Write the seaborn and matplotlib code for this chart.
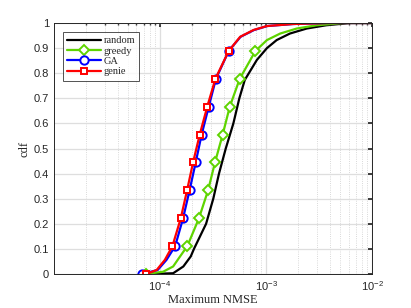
import numpy as np
import pandas as pd
import matplotlib
matplotlib.use("Agg")
import matplotlib.pyplot as plt
import seaborn as sns
from matplotlib.ticker import LogLocator, NullFormatter, FixedLocator

# cdf levels / NMSE values
m = 1 / 9
random_cdf = [0, 0.003, 0.03, 0.07, 0.1, 0.2, 0.3, 0.4, 0.5, 0.6, 0.7, 0.773, 0.853, 0.9, 0.932, 0.958, 0.978, 0.991, 1.0, 1.0]
random_x = [8e-5, 1.33e-4, 1.66e-4, 1.95e-4, 2.09e-4, 2.72e-4, 3.18e-4, 3.6e-4, 4.17e-4, 4.92e-4, 5.6e-4, 6.3e-4, 8.2e-4, 1.02e-3, 1.26e-3, 1.68e-3, 2.42e-3, 3.7e-3, 6.2e-3, 1e-2]

greedy_cdf = [0, 0.009, 0.03, 0.069, m, 2*m, 3*m, 4*m, 5*m, 6*m, 7*m, 8*m, 0.932, 0.958, 0.978, 0.991, 1.0, 1.0]
greedy_x = [7.3e-5, 1.07e-4, 1.33e-4, 1.54e-4, 1.81e-4, 2.33e-4, 2.84e-4, 3.3e-4, 3.9e-4, 4.55e-4, 5.65e-4, 7.95e-4, 1.02e-3, 1.36e-3, 1.95e-3, 3.0e-3, 5.4e-3, 1e-2]
greedy_mk = [0, 4, 5, 6, 7, 8, 9, 10, 11]

ga_cdf = [0, 0.016, 0.056, m, 2*m, 3*m, 4*m, 5*m, 6*m, 7*m, 8*m, 0.945, 0.972, 0.988, 0.996, 1.0, 1.0]
ga_x = [6.8e-5, 9.5e-5, 1.15e-4, 1.39e-4, 1.65e-4, 1.90e-4, 2.17e-4, 2.47e-4, 2.88e-4, 3.37e-4, 4.45e-4, 5.75e-4, 7.7e-4, 1.03e-3, 1.8e-3, 3.8e-3, 1e-2]
ga_mk = [0, 3, 4, 5, 6, 7, 8, 9, 10]

genie_cdf = [0, 0.016, 0.056, m, 2*m, 3*m, 4*m, 5*m, 6*m, 7*m, 8*m, 0.945, 0.972, 0.988, 0.996, 1.0, 1.0]
genie_x = [7.4e-5, 9.3e-5, 1.11e-4, 1.31e-4, 1.57e-4, 1.80e-4, 2.05e-4, 2.37e-4, 2.79e-4, 3.33e-4, 4.45e-4, 5.7e-4, 7.6e-4, 1.02e-3, 1.8e-3, 3.8e-3, 1e-2]
genie_mk = [0, 3, 4, 5, 6, 7, 8, 9, 10]

sns.set_theme(style="white")
plt.rcParams['font.family'] = ['Liberation Sans', 'DejaVu Sans']
plt.rcParams['mathtext.fontset'] = 'custom'
plt.rcParams['mathtext.rm'] = 'Liberation Sans'

fig = plt.figure(figsize=(4.11, 3.08), dpi=100)
ax = fig.add_axes([0.1314, 0.1104, 0.7738, 0.8149])
ax.set_xscale('log')

green = '#5ed400'
sns.lineplot(x=random_x, y=random_cdf, ax=ax, color='black', lw=1.6, sort=False,
             estimator=None, label='random')
sns.lineplot(x=greedy_x, y=greedy_cdf, ax=ax, color=green, lw=1.6, sort=False, estimator=None,
             marker='D', markevery=greedy_mk, ms=5, mfc='white', mec=green, mew=1.4, label='greedy')
sns.lineplot(x=ga_x, y=ga_cdf, ax=ax, color='blue', lw=1.6, sort=False, estimator=None,
             marker='o', markevery=ga_mk, ms=6, mfc='white', mec='blue', mew=1.4, label='GA')
sns.lineplot(x=genie_x, y=genie_cdf, ax=ax, color='red', lw=1.6, sort=False, estimator=None,
             marker='s', markevery=genie_mk, ms=5, mfc='white', mec='red', mew=1.4, label='genie')

ax.set_xlim(1e-5, 1e-2)
ax.set_ylim(0, 1)
ax.xaxis.set_major_locator(FixedLocator([1e-4, 1e-3, 1e-2]))
ax.set_xticklabels(['$10^{-4}$', '$10^{-3}$', '$10^{-2}$'])
ax.xaxis.set_minor_locator(LogLocator(base=10, subs=np.arange(2, 10), numticks=20))
ax.xaxis.set_minor_formatter(NullFormatter())
ax.set_yticks(np.arange(0, 1.01, 0.1))
ax.set_yticklabels(['0'] + ['%.1f' % v for v in np.arange(0.1, 0.95, 0.1)] + ['1'])

ax.grid(True, which='major', color='#dedede', lw=0.9, ls='-')
ax.grid(True, which='minor', axis='x', color='#cccccc', lw=0.6, ls=':')
ax.set_axisbelow(True)
for s in ax.spines.values():
    s.set_color('#262626')
    s.set_linewidth(0.7)
ax.tick_params(axis='both', which='both', direction='in', top=True, right=True,
               labelsize=8, colors='#262626', length=3)
ax.tick_params(axis='both', which='minor', length=1.5)

ax.set_xlabel('Maximum NMSE', family='Liberation Serif', fontsize=9, labelpad=1)
ax.set_ylabel('cdf', family='Liberation Serif', fontsize=9, labelpad=2)

leg = ax.legend(loc='upper left', prop={'family': 'Liberation Serif', 'size': 7.5},
                fancybox=False, edgecolor='#262626', handlelength=3.2,
                borderpad=0.4, labelspacing=0.1, handletextpad=0.3,
                bbox_to_anchor=(0.012, 0.985))
leg.get_frame().set_linewidth(0.7)

fig.savefig('out.png', dpi=100)
